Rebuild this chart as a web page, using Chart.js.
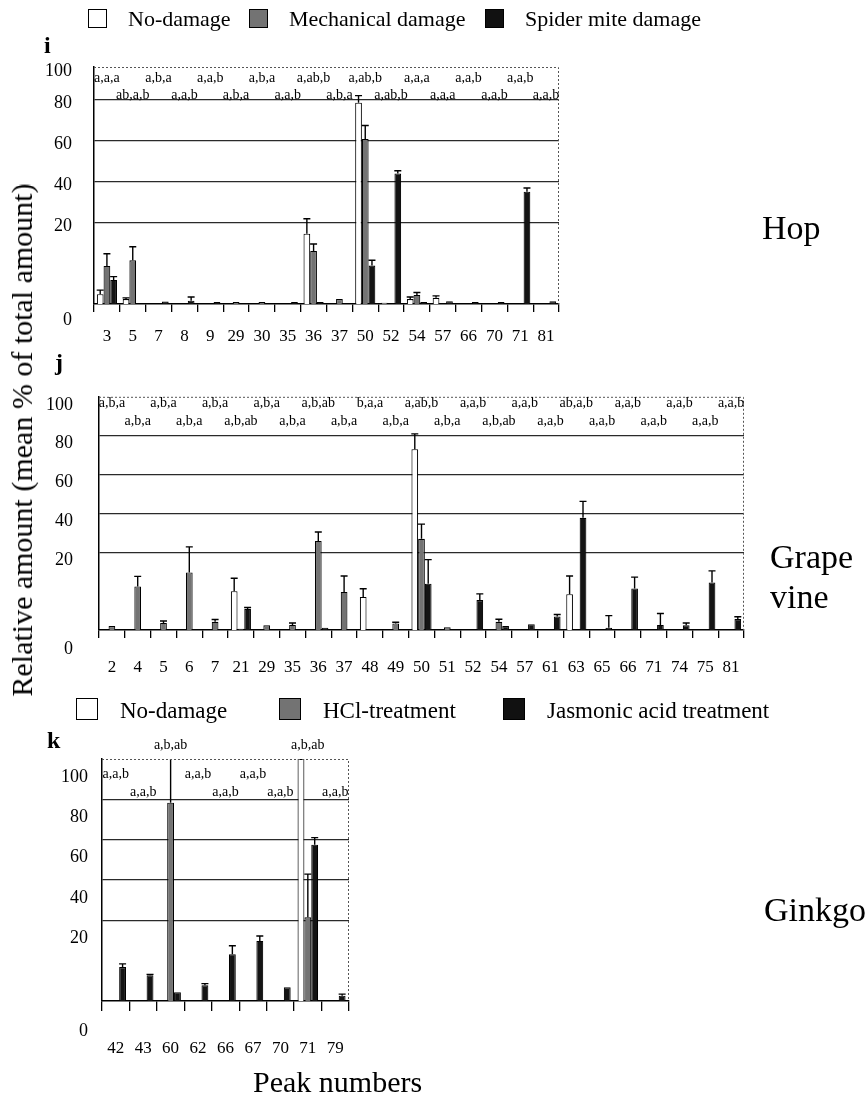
<!DOCTYPE html>
<html>
<head>
<meta charset="utf-8">
<title>Relative amount of volatile peaks</title>
<script src="https://cdn.jsdelivr.net/npm/chart.js@4.4.0/dist/chart.umd.min.js"></script>
<style>
  body { margin: 0; background: #fff; }
  #page { position: relative; width: 865px; height: 1096px; overflow: hidden;
          font-family: "Liberation Serif", "Times New Roman", serif; color: #000; }
  canvas { position: absolute; left: 0; }
  .txt { position: absolute; white-space: nowrap; line-height: 1; transform: translateY(-50%); z-index: 2; }
  .sw { position: absolute; box-sizing: border-box; border: 1px solid #000; z-index: 2; }
  .panel-id { font-weight: bold; font-size: 24px; }
  .plant { font-size: 34px; }
  .leg { font-size: 22px; }
</style>
</head>
<body>
<div id="page">
  <canvas id="hopChart" width="865" height="360" style="top:0px"></canvas>
  <canvas id="grapeChart" width="865" height="340" style="top:360px"></canvas>
  <canvas id="ginkgoChart" width="865" height="340" style="top:730px"></canvas>

  <!-- legend, panel i -->
  <div class="sw" style="left:88px;top:9px;width:19px;height:19px;background:#fff"></div>
  <div class="txt leg" style="left:128px;top:19px">No-damage</div>
  <div class="sw" style="left:249px;top:9px;width:19px;height:19px;background:#737373"></div>
  <div class="txt leg" style="left:289px;top:19px">Mechanical damage</div>
  <div class="sw" style="left:485px;top:9px;width:19px;height:19px;background:#111"></div>
  <div class="txt leg" style="left:525px;top:19px">Spider mite damage</div>

  <!-- legend, panel k -->
  <div class="sw" style="left:76px;top:698px;width:22px;height:22px;background:#fff"></div>
  <div class="txt leg" style="left:120px;top:710px;font-size:23px">No-damage</div>
  <div class="sw" style="left:279px;top:698px;width:22px;height:22px;background:#737373"></div>
  <div class="txt leg" style="left:323px;top:710px;font-size:23px">HCl-treatment</div>
  <div class="sw" style="left:503px;top:698px;width:22px;height:22px;background:#111"></div>
  <div class="txt leg" style="left:547px;top:710px;font-size:23px">Jasmonic acid treatment</div>

  <div class="txt panel-id" style="left:44px;top:45px">i</div>
  <div class="txt panel-id" style="left:55px;top:362px">j</div>
  <div class="txt panel-id" style="left:47px;top:740px">k</div>

  <div class="txt plant" style="left:762px;top:228px">Hop</div>
  <div class="txt plant" style="left:770px;top:557px">Grape</div>
  <div class="txt plant" style="left:770px;top:597px">vine</div>
  <div class="txt plant" style="left:764px;top:910px">Ginkgo</div>

  <div class="txt" style="left:22px;top:440px;font-size:30px;transform:translate(-50%,-50%) rotate(-90deg)">Relative amount (mean % of total amount)</div>
  <div class="txt" style="left:253px;top:1082px;font-size:30px">Peak numbers</div>
</div>

<script>
const SERIF = '"Liberation Serif", "Times New Roman", serif';
const FILLS = ['#ffffff', '#737373', '#141414'];

/* y axis: labels and where they sit (the "0" label hangs under the axis) */
const yTickLabels = ['0', '20', '40', '60', '80', '100'];
const yTickValues = [-3, 20, 40, 60, 80, 100];

/* HOP (i) */
const hopPeaks = ['3', '5', '7', '8', '9', '29', '30', '35', '36', '37', '50', '52', '54', '57', '66', '70', '71', '81'];
const hopNoDamage = [2.4, 1.2, 0, 0, 0, 0, 0, 0, 17.2, 0, 78.5, 0.3, 1.2, 1.5, 0, 0, 0, 0];
const hopNoDamageErr = [1, 0.3, 0, 0, 0, 0, 0, 0, 4.5, 0, 3.5, 0, 0.5, 0.5, 0, 0, 0, 0];
const hopMechanical = [9.3, 10.7, 0, 0, 0, 0.5, 0.5, 0, 13, 1.2, 60.8, 0, 2.2, 0, 0, 0, 0, 0];
const hopMechanicalErr = [3, 3.3, 0, 0, 0, 0, 0, 0, 1.7, 0, 6.6, 0, 0.6, 0, 0, 0, 0, 0];
const hopSpiderMite = [5.9, 0, 0.6, 0.8, 0.5, 0, 0, 0.5, 0.5, 0, 9.4, 43.9, 0.5, 0.7, 0.5, 0.5, 35, 0.7];
const hopSpiderMiteErr = [0.8, 0, 0, 0.9, 0, 0, 0, 0, 0, 0, 1.3, 1.3, 0, 0, 0, 0, 1.8, 0];
const hopLetters = ['a,a,a', 'ab,a,b', 'a,b,a', 'a,a,b', 'a,a,b', 'a,b,a', 'a,b,a', 'a,a,b', 'a,ab,b',
  'a,b,a', 'a,ab,b', 'a,ab,b', 'a,a,a', 'a,a,a', 'a,a,b', 'a,a,b', 'a,a,b', 'a,a,b'];

/* GRAPE VINE (j) */
const grapePeaks = ['2', '4', '5', '6', '7', '21', '29', '35', '36', '37', '48', '49', '50', '51', '52', '54',
  '57', '61', '63', '65', '66', '71', '74', '75', '81'];
const grapeNoDamage = [0, 0, 0, 0, 0, 10, 0, 0, 0, 0, 8.5, 0, 73, 0, 0, 0, 0, 0, 9.2, 0, 0, 0, 0, 0, 0];
const grapeNoDamageErr = [0, 0, 0, 0, 0, 3.3, 0, 0, 0, 0, 2.1, 0, 7.9, 0, 0, 0, 0, 0, 4.7, 0, 0, 0, 0, 0, 0];
const grapeHcl = [1, 11.2, 1.8, 14.8, 2.1, 0.3, 1.2, 1.3, 25.8, 9.8, 0, 1.7, 26.9, 0.7, 0, 2.1, 0, 0, 0, 0, 0, 0, 0, 0, 0];
const grapeHclErr = [0, 2.6, 0.5, 8, 0.6, 0, 0, 0.5, 4.6, 4.1, 0, 0.3, 7.6, 0, 0, 0.65, 0, 0, 0, 0, 0, 0, 0, 0, 0];
const grapeJasmonic = [0, 0, 0, 0, 0, 5.4, 0, 0, 0.6, 0, 0, 0, 11.9, 0, 7.7, 1, 1.5, 3.5, 37.7, 0.6, 10.7, 1.3, 1.25, 12.25, 2.8];
const grapeJasmonicErr = [0, 0, 0, 0, 0, 0.4, 0, 0, 0, 0, 0, 0, 6.2, 0, 1.6, 0, 0, 0.5, 8.5, 3.1, 2.9, 2.95, 0.55, 2.95, 0.6];
const grapeLetters = ['a,b,a', 'a,b,a', 'a,b,a', 'a,b,a', 'a,b,a', 'a,b,ab', 'a,b,a', 'a,b,a', 'a,b,ab', 'a,b,a',
  'b,a,a', 'a,b,a', 'a,ab,b', 'a,b,a', 'a,a,b', 'a,b,ab', 'a,a,b', 'a,a,b', 'ab,a,b', 'a,a,b', 'a,a,b',
  'a,a,b', 'a,a,b', 'a,a,b', 'a,a,b'];

/* GINKGO (k) */
const ginkgoPeaks = ['42', '43', '60', '62', '66', '67', '70', '71', '79'];
const ginkgoNoDamage = [0, 0, 0, 0, 0, 0, 0, 100, 0];
const ginkgoNoDamageErr = [0, 0, 0, 0, 0, 0, 0, 0, 0];
const ginkgoHcl = [0, 0, 78.3, 0, 0, 0, 0, 21.5, 0];
const ginkgoHclErr = [0, 0, 30, 0, 0, 0, 0, 21.4, 0];
const ginkgoJasmonic = [8.4, 6.4, 2.2, 3.9, 11.6, 14.9, 3.4, 57.5, 1.3];
const ginkgoJasmonicErr = [0.8, 0.2, 0, 0.4, 2.1, 1.2, 0, 3.5, 0.4];
const ginkgoLetters = ['a,a,b', 'a,a,b', 'a,b,ab', 'a,a,b', 'a,a,b', 'a,a,b', 'a,a,b', 'a,b,ab', 'a,a,b'];
const ginkgoLetterRows = [0, 1, -1, 0, 1, 0, 1, -1, 1];

/* Value axis that gives the 0-20 band twice the room of the rest */
class StretchedScale extends Chart.LinearScale {
  static id = 'stretched';
  toUnits(v) { return v < 20 ? v * 2 : v + 20; }
  fromUnits(u) { return u < 40 ? u / 2 : u - 20; }
  getPixelForValue(value) {
    if (value === null || value === undefined || isNaN(value)) return NaN;
    const a = this.toUnits(this.min), b = this.toUnits(this.max);
    return this.getPixelForDecimal((this.toUnits(value) - a) / (b - a));
  }
  getValueForPixel(pixel) {
    const a = this.toUnits(this.min), b = this.toUnits(this.max);
    return this.fromUnits(a + this.getDecimalForPixel(pixel) * (b - a));
  }
}
Chart.register(StretchedScale);

// per-panel extras, looked up by canvas id
const panelInfo = {};

/* error bars (upper half only) */
const errorBars = {
  id: 'errorBars',
  afterDatasetsDraw(chart) {
    const { ctx, chartArea: area, scales: { y } } = chart;
    ctx.save();
    ctx.beginPath();
    ctx.rect(area.left, area.top, area.width, area.height);
    ctx.clip();
    ctx.strokeStyle = '#000';
    ctx.lineWidth = 1.4;
    chart.data.datasets.forEach((ds, di) => {
      chart.getDatasetMeta(di).data.forEach((bar, i) => {
        const err = ds.errors[i];
        if (!err) return;
        const top = y.getPixelForValue(ds.data[i] + err);
        ctx.beginPath();
        ctx.moveTo(bar.x, bar.y);
        ctx.lineTo(bar.x, top);
        ctx.moveTo(bar.x - 3.5, top);
        ctx.lineTo(bar.x + 3.5, top);
        ctx.stroke();
      });
    });
    ctx.restore();
  }
};

/* dotted frame on top/right and the significance letters */
const panelDecor = {
  id: 'panelDecor',
  afterDraw(chart) {
    const info = panelInfo[chart.canvas.id];
    const { ctx, chartArea: area, scales: { x } } = chart;
    ctx.save();
    ctx.strokeStyle = '#555';
    ctx.lineWidth = 1;
    ctx.setLineDash([2, 2]);
    ctx.beginPath();
    ctx.moveTo(area.left, area.top + 0.5);
    ctx.lineTo(area.right - 0.5, area.top + 0.5);
    ctx.lineTo(area.right - 0.5, area.bottom);
    ctx.stroke();
    ctx.setLineDash([]);

    ctx.font = '14px ' + SERIF;
    ctx.fillStyle = '#000';
    ctx.textAlign = 'center';
    ctx.textBaseline = 'middle';
    info.letters.forEach((txt, i) => {
      const row = info.rows ? info.rows[i] : i % 2;
      const yPos = row < 0 ? area.top + info.aboveY : area.top + info.rowY[row];
      ctx.fillText(txt, x.getPixelForValue(i), yPos);
    });
    ctx.restore();
  }
};

function makePanel(id, cfg) {
  panelInfo[id] = cfg;
  const canvas = document.getElementById(id);
  const ticksY = yTickValues.map(v => Math.min(v, cfg.yMax));
  return new Chart(canvas, {
    type: 'bar',
    data: {
      labels: cfg.peaks,
      datasets: cfg.series.map((s, i) => ({
        label: s.name,
        data: s.values,
        errors: s.errors,
        backgroundColor: FILLS[i],
        borderColor: '#000',
        borderWidth: 1.1,
        borderSkipped: 'start',
        categoryPercentage: cfg.groupWidth,
        barPercentage: 1
      }))
    },
    options: {
      responsive: false,
      animation: false,
      devicePixelRatio: 1,
      layout: { padding: { left: 0, top: cfg.top, right: 865 - cfg.right, bottom: 0 } },
      plugins: { legend: { display: false }, tooltip: { enabled: false } },
      scales: {
        x: {
          grid: { offset: true, drawOnChartArea: false, drawTicks: true, tickLength: cfg.tickLength,
                  color: '#000', lineWidth: 1.3 },
          border: { color: '#000', width: 1.5 },
          ticks: { color: '#000', font: { family: SERIF, size: 17 }, padding: cfg.xPad,
                   maxRotation: 0, autoSkip: false },
          afterFit: s => { s.height = canvas.height - cfg.bottom; }
        },
        y: {
          type: 'stretched',
          min: 0,
          max: cfg.yMax,
          afterBuildTicks: s => { s.ticks = ticksY.map(v => ({ value: v })); },
          ticks: { color: '#000', font: { family: SERIF, size: 18 }, padding: cfg.yPad,
                   labelOffset: cfg.labelShift, autoSkip: false,
                   callback: (v, i) => yTickLabels[i] },
          grid: { drawTicks: false, lineWidth: 1.3,
                  color: c => (c.tick && c.tick.value > 0 && c.tick.value < cfg.yMax) ? '#2a2a2a' : 'rgba(0,0,0,0)' },
          border: { color: '#000', width: 1.5 },
          afterFit: s => { s.width = cfg.left; }
        }
      }
    },
    plugins: [errorBars, panelDecor]
  });
}

makePanel('hopChart', {
  peaks: hopPeaks,
  series: [
    { name: 'No-damage', values: hopNoDamage, errors: hopNoDamageErr },
    { name: 'Mechanical damage', values: hopMechanical, errors: hopMechanicalErr },
    { name: 'Spider mite damage', values: hopSpiderMite, errors: hopSpiderMiteErr }
  ],
  letters: hopLetters, rowY: [11, 28],
  left: 94, right: 559, top: 67, bottom: 304, yMax: 96,
  groupWidth: 0.78, tickLength: 8, xPad: 14, yPad: 22, labelShift: 4
});

makePanel('grapeChart', {
  peaks: grapePeaks,
  series: [
    { name: 'No-damage', values: grapeNoDamage, errors: grapeNoDamageErr },
    { name: 'HCl-treatment', values: grapeHcl, errors: grapeHclErr },
    { name: 'Jasmonic acid treatment', values: grapeJasmonic, errors: grapeJasmonicErr }
  ],
  letters: grapeLetters, rowY: [7, 25],
  left: 99, right: 744, top: 29, bottom: 270, yMax: 100,
  groupWidth: 0.78, tickLength: 8, xPad: 19, yPad: 26, labelShift: 8
});

makePanel('ginkgoChart', {
  peaks: ginkgoPeaks,
  series: [
    { name: 'No-damage', values: ginkgoNoDamage, errors: ginkgoNoDamageErr },
    { name: 'HCl-treatment', values: ginkgoHcl, errors: ginkgoHclErr },
    { name: 'Jasmonic acid treatment', values: ginkgoJasmonic, errors: ginkgoJasmonicErr }
  ],
  letters: ginkgoLetters, rows: ginkgoLetterRows, rowY: [15, 33], aboveY: -14,
  left: 102, right: 349, top: 29, bottom: 271, yMax: 100,
  groupWidth: 0.75, tickLength: 10, xPad: 27, yPad: 14, labelShift: 18
});
</script>
</body>
</html>
